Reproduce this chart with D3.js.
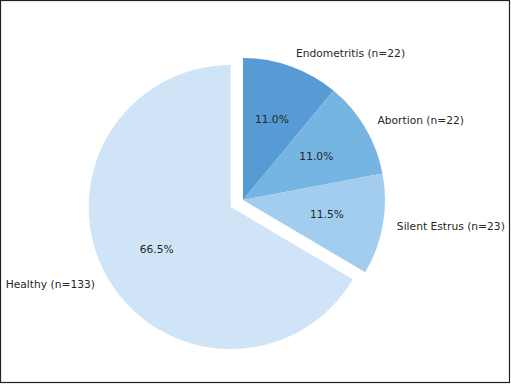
<!DOCTYPE html>
<html><head><meta charset="utf-8">
<script src="https://cdn.jsdelivr.net/npm/d3@7"></script>
<style>body{margin:0;background:#fff}svg{display:block}</style>
</head><body>
<svg id="c" width="511" height="384"></svg>
<script>
const categories = ["Endometritis", "Abortion", "Silent Estrus", "Healthy"];
const counts = [22, 22, 23, 133];
const percents = [11.0, 11.0, 11.5, 66.5];
const colors = ["#569bd4", "#76b4e2", "#a2cdef", "#cfe5f7"];
const explode = [0, 0, 0, 0.1];

const W = 511, H = 384;
const cx = 243, cy = 200, R = 142;
const svg = d3.select("#c");
svg.append("rect").attr("x", 0.5).attr("y", 0.5).attr("width", 509).attr("height", 382)
  .attr("fill", "#fff").attr("stroke", "#222").attr("stroke-width", 1.2);

const data = categories.map((c, i) => ({cat: c, n: counts[i], pct: percents[i], color: colors[i], ex: explode[i]}));
const pie = d3.pie().sort(null).value(d => d.n).startAngle(0).endAngle(2 * Math.PI);
const arcs = pie(data);
const arc = d3.arc().innerRadius(0).outerRadius(R);

const g = svg.append("g").attr("transform", `translate(${cx},${cy})`);
arcs.forEach(a => {
  const mid = (a.startAngle + a.endAngle) / 2;
  const ox = Math.sin(mid) * a.data.ex * R, oy = -Math.cos(mid) * a.data.ex * R;
  const sg = g.append("g").attr("transform", `translate(${ox},${oy})`);
  sg.append("path").attr("d", arc(a)).attr("fill", a.data.color);
  const lx = Math.sin(mid) * 1.1 * R, ly = -Math.cos(mid) * 1.1 * R;
  sg.append("text").attr("x", lx).attr("y", ly)
    .attr("text-anchor", Math.sin(mid) >= 0 ? "start" : "end")
    .attr("dominant-baseline", "central")
    .attr("font-family", "DejaVu Sans").attr("font-size", 10.7).attr("fill", "#262626")
    .text(`${a.data.cat} (n=${a.data.n})`);
  const px = Math.sin(mid) * 0.6 * R, py = -Math.cos(mid) * 0.6 * R;
  sg.append("text").attr("x", px).attr("y", py)
    .attr("text-anchor", "middle").attr("dominant-baseline", "central")
    .attr("font-family", "DejaVu Sans").attr("font-size", 10.7).attr("fill", "#262626")
    .text(a.data.pct.toFixed(1) + "%");
});
</script>
</body></html>
